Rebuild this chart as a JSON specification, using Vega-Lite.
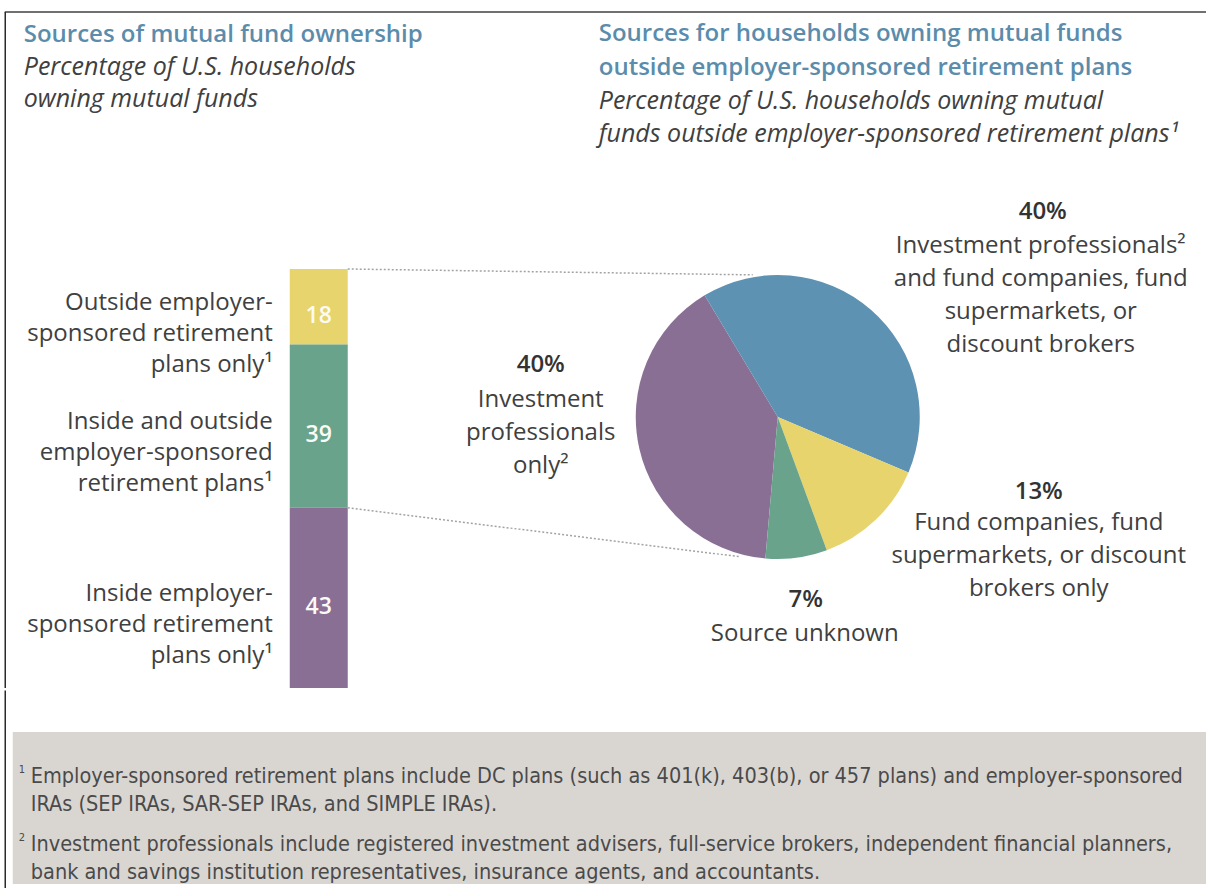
{
  "$schema": "https://vega.github.io/schema/vega-lite/v6.json",
  "background": "white",
  "padding": {"left": 3.75, "top": 11, "right": 0, "bottom": 0},
  "config": {"view": {"stroke": null}, "font": "Open Sans"},
  "spacing": 0,
  "datasets": {
    "ownership": [
      {"group": "U.S. households owning mutual funds", "segment": "Outside employer-sponsored retirement plans only¹", "label": "Outside employer-\nsponsored retirement\nplans only¹", "share": 18},
      {"group": "U.S. households owning mutual funds", "segment": "Inside and outside employer-sponsored retirement plans¹", "label": "Inside and outside\nemployer-sponsored\nretirement plans¹", "share": 39},
      {"group": "U.S. households owning mutual funds", "segment": "Inside employer-sponsored retirement plans only¹", "label": "Inside employer-\nsponsored retirement\nplans only¹", "share": 43}
    ],
    "sources": [
      {"source": "Investment professionals only", "desc": "Investment\nprofessionals\nonly²", "pct": 0.40},
      {"source": "Investment professionals and fund companies, fund supermarkets, or discount brokers", "desc": "Investment professionals²\nand fund companies, fund\nsupermarkets, or\ndiscount brokers", "pct": 0.40},
      {"source": "Fund companies, fund supermarkets, or discount brokers only", "desc": "Fund companies, fund\nsupermarkets, or discount\nbrokers only", "pct": 0.13},
      {"source": "Source unknown", "desc": "Source unknown", "pct": 0.07}
    ],
    "notes": [
      {"note": "1", "marker": "1", "text": "Employer-sponsored retirement plans include DC plans (such as 401(k), 403(b), or 457 plans) and employer-sponsored\nIRAs (SEP IRAs, SAR-SEP IRAs, and SIMPLE IRAs)."},
      {"note": "2", "marker": "2", "text": "Investment professionals include registered investment advisers, full-service brokers, independent financial planners,\nbank and savings institution representatives, insurance agents, and accountants."}
    ]
  },
  "vconcat": [
    {
      "bounds": "flush",
      "spacing": 251,
      "resolve": {"scale": {"color": "independent"}},
      "hconcat": [
        {
          "width": 335,
          "height": 419,
          "title": {
            "text": "Sources of mutual fund ownership",
            "subtitle": ["Percentage of U.S. households", "owning mutual funds"],
            "anchor": "start",
            "frame": "group",
            "dx": 11,
            "offset": -101,
            "font": "Open Sans",
            "fontSize": 24,
            "fontWeight": 600,
            "color": "#5b8cab",
            "subtitleFont": "Open Sans",
            "subtitleFontSize": 25,
            "subtitleFontStyle": "italic",
            "subtitleColor": "#404040",
            "subtitleLineHeight": 32,
            "subtitlePadding": 8
          },
          "data": {"name": "ownership"},
          "layer": [
            {
              "mark": {"type": "bar"},
              "encoding": {
                "x": {"field": "group", "type": "nominal", "axis": null, "scale": {"range": [277, 335], "paddingInner": 0, "paddingOuter": 0}},
                "y": {"field": "share", "type": "quantitative", "stack": "zero", "axis": null, "scale": {"domain": [0, 100], "nice": false}},
                "color": {"field": "segment", "type": "nominal", "legend": null, "scale": {"domain": ["Outside employer-sponsored retirement plans only¹", "Inside and outside employer-sponsored retirement plans¹", "Inside employer-sponsored retirement plans only¹"], "range": ["#e8d46c", "#6aa38b", "#8a6f95"]}},
                "order": {"field": "share", "type": "quantitative", "sort": "descending"}
              }
            },
            {
              "mark": {"type": "text", "color": "#fbfbf5", "fontSize": 23, "fontWeight": 600, "dy": 9},
              "encoding": {
                "x": {"field": "group", "type": "nominal"},
                "y": {"field": "share", "type": "quantitative", "stack": "zero", "bandPosition": 0.5},
                "order": {"field": "share", "type": "quantitative", "sort": "descending"},
                "text": {"field": "share", "type": "quantitative", "format": "d"}
              }
            },
            {
              "mark": {"type": "text", "align": "right", "baseline": "middle", "lineBreak": "\n", "lineHeight": 31, "fontSize": 24, "color": "#404040", "dx": -46, "dy": -4},
              "encoding": {
                "x": {"field": "group", "type": "nominal"},
                "y": {"field": "share", "type": "quantitative", "stack": "zero", "bandPosition": 0.5},
                "order": {"field": "share", "type": "quantitative", "sort": "descending"},
                "text": {"field": "label", "type": "nominal"}
              }
            },
            {
              "data": {"values": [{}]},
              "mark": {"type": "rule", "color": "#a3a3a3", "strokeWidth": 1.5, "strokeDash": [2, 2]},
              "encoding": {
                "x": {"value": 335},
                "x2": {"value": 740},
                "y": {"datum": 100, "type": "quantitative"},
                "y2": {"datum": 98.6}
              }
            },
            {
              "data": {"values": [{}]},
              "mark": {"type": "rule", "color": "#a3a3a3", "strokeWidth": 1.5, "strokeDash": [2, 2]},
              "encoding": {
                "x": {"value": 335},
                "x2": {"value": 728},
                "y": {"datum": 43, "type": "quantitative"},
                "y2": {"datum": 31.3}
              }
            },
            {
              "data": {"values": [{}]},
              "mark": {"type": "rule", "color": "#707070", "strokeWidth": 2},
              "encoding": {"x": {"value": -8}, "x2": {"value": 1194}, "y": {"value": -257}}
            },
            {
              "data": {"values": [{}]},
              "mark": {"type": "rule", "color": "#2a2a2a", "strokeWidth": 1.5},
              "encoding": {"x": {"value": -7.5}, "y": {"value": -257}, "y2": {"value": 419}}
            }
          ]
        },
        {
          "width": 358,
          "height": 296,
          "title": {
            "text": ["Sources for households owning mutual funds", "outside employer-sponsored retirement plans"],
            "subtitle": ["Percentage of U.S. households owning mutual", "funds outside employer-sponsored retirement plans¹"],
            "anchor": "start",
            "frame": "group",
            "offset": 53,
            "font": "Open Sans",
            "fontSize": 24,
            "fontWeight": 600,
            "lineHeight": 34,
            "color": "#5b8cab",
            "subtitleFont": "Open Sans",
            "subtitleFontSize": 25,
            "subtitleFontStyle": "italic",
            "subtitleColor": "#404040",
            "subtitleLineHeight": 33,
            "subtitlePadding": 9
          },
          "data": {"name": "sources"},
          "layer": [
            {
              "mark": {"type": "arc", "outerRadius": 142},
              "encoding": {
                "theta": {"field": "pct", "type": "quantitative", "stack": true, "scale": {"range": [2.789, 9.072]}},
                "order": {"field": "source", "type": "nominal", "sort": "descending"},
                "color": {"field": "source", "type": "nominal", "legend": null, "scale": {"domain": ["Investment professionals only", "Investment professionals and fund companies, fund supermarkets, or discount brokers", "Fund companies, fund supermarkets, or discount brokers only", "Source unknown"], "range": ["#8a6f95", "#5e92b3", "#e8d46c", "#6aa38b"]}}
              }
            },
            {
              "transform": [{"filter": "datum.source === 'Investment professionals only'"}],
              "mark": {"type": "text", "dx": -237, "dy": -52, "fontSize": 24, "fontWeight": 600, "color": "#333333"},
              "encoding": {"text": {"field": "pct", "type": "quantitative", "format": ".0%"}}
            },
            {
              "transform": [{"filter": "datum.source === 'Investment professionals only'"}],
              "mark": {"type": "text", "dx": -237, "dy": -17, "fontSize": 24, "lineBreak": "\n", "lineHeight": 33, "color": "#404040"},
              "encoding": {"text": {"field": "desc", "type": "nominal"}}
            },
            {
              "transform": [{"filter": "datum.source === 'Investment professionals and fund companies, fund supermarkets, or discount brokers'"}],
              "mark": {"type": "text", "dx": 265, "dy": -205, "fontSize": 24, "fontWeight": 600, "color": "#333333"},
              "encoding": {"text": {"field": "pct", "type": "quantitative", "format": ".0%"}}
            },
            {
              "transform": [{"filter": "datum.source === 'Investment professionals and fund companies, fund supermarkets, or discount brokers'"}],
              "mark": {"type": "text", "dx": 263, "dy": -171, "fontSize": 24, "lineBreak": "\n", "lineHeight": 33, "color": "#404040"},
              "encoding": {"text": {"field": "desc", "type": "nominal"}}
            },
            {
              "transform": [{"filter": "datum.source === 'Fund companies, fund supermarkets, or discount brokers only'"}],
              "mark": {"type": "text", "dx": 261, "dy": 75, "fontSize": 24, "fontWeight": 600, "color": "#333333"},
              "encoding": {"text": {"field": "pct", "type": "quantitative", "format": ".0%"}}
            },
            {
              "transform": [{"filter": "datum.source === 'Fund companies, fund supermarkets, or discount brokers only'"}],
              "mark": {"type": "text", "dx": 261, "dy": 106, "fontSize": 24, "lineBreak": "\n", "lineHeight": 33, "color": "#404040"},
              "encoding": {"text": {"field": "desc", "type": "nominal"}}
            },
            {
              "transform": [{"filter": "datum.source === 'Source unknown'"}],
              "mark": {"type": "text", "dx": 28, "dy": 183, "fontSize": 24, "fontWeight": 600, "color": "#333333"},
              "encoding": {"text": {"field": "pct", "type": "quantitative", "format": ".0%"}}
            },
            {
              "transform": [{"filter": "datum.source === 'Source unknown'"}],
              "mark": {"type": "text", "dx": 27, "dy": 217, "fontSize": 24, "lineBreak": "\n", "lineHeight": 33, "color": "#404040"},
              "encoding": {"text": {"field": "desc", "type": "nominal"}}
            }
          ]
        }
      ]
    },
    {
      "width": 1194,
      "height": 152,
      "view": {"fill": "#d9d6d2", "stroke": null},
      "data": {"name": "notes"},
      "layer": [
        {
          "mark": {"type": "text", "align": "left", "baseline": "middle", "lineBreak": "\n", "lineHeight": 28, "fontSize": 21.5, "font": "DejaVu Sans Condensed, Liberation Sans Narrow, sans-serif", "color": "#4a4a4a", "dy": 3},
          "encoding": {
            "x": {"value": 18},
            "y": {"field": "note", "type": "ordinal", "axis": null, "scale": {"padding": 0.61}},
            "text": {"field": "text", "type": "nominal"}
          }
        },
        {
          "mark": {"type": "text", "align": "left", "baseline": "middle", "fontSize": 11, "font": "DejaVu Sans Condensed, Liberation Sans Narrow, sans-serif", "color": "#4a4a4a", "dy": -4},
          "encoding": {
            "x": {"value": 6},
            "y": {"field": "note", "type": "ordinal", "axis": null, "scale": {"padding": 0.61}},
            "text": {"field": "marker", "type": "nominal"}
          }
        },
        {
          "data": {"values": [{}]},
          "mark": {"type": "rule", "color": "#2a2a2a", "strokeWidth": 1.5},
          "encoding": {"x": {"value": -7.5}, "y": {"value": -41.5}, "y2": {"value": 159}}
        }
      ]
    }
  ]
}
